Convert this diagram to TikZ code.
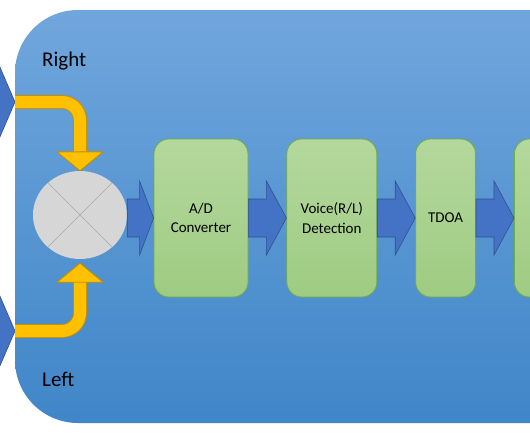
\documentclass[tikz,border=0pt]{standalone}
\usepackage{fontspec}
\setmainfont{Carlito}
\usetikzlibrary{arrows.meta,positioning,shapes.geometric,calc}

\definecolor{panelTop}{RGB}{112,166,220}
\definecolor{panelBot}{RGB}{64,134,200}
\definecolor{flowBlue}{RGB}{68,114,196}
\definecolor{flowEdge}{RGB}{47,82,143}
\definecolor{stageTop}{RGB}{180,216,156}
\definecolor{stageBot}{RGB}{158,203,130}
\definecolor{stageEdge}{RGB}{112,173,71}
\definecolor{bendFill}{RGB}{255,192,0}
\definecolor{bendEdge}{RGB}{191,144,0}
\definecolor{mixFill}{RGB}{214,214,214}
\definecolor{mixLine}{RGB}{168,168,168}

% block arrow from one node to the next
\newcommand{\flowarrow}[3][20pt]{%
  \filldraw[flow] let \p1=(#2.east), \p2=(#3.west) in
    (\x1,\y2+19pt) -- (\x2-#1,\y2+19pt) -- (\x2-#1,\y2+37pt) -- (\x2,\y2)
    -- (\x2-#1,\y2-37pt) -- (\x2-#1,\y2-19pt) -- (\x1,\y2-19pt) -- cycle;}

\begin{document}
\begin{tikzpicture}[
    x=1pt, y=-1pt,
    node distance=38pt,
    stage/.style={rectangle, rounded corners=15pt, draw=stageEdge, line width=0.8pt, top color=stageTop, bottom color=stageBot, align=center, inner sep=0pt, minimum height=158pt, font=\fontsize{15}{19.5}\selectfont},
    mixer/.style={ellipse, fill=mixFill, minimum width=94pt, minimum height=88pt, inner sep=0pt},
    flow/.style={fill=flowBlue, draw=flowEdge, line width=0.6pt},
    bendband/.style={draw=bendEdge, double=bendFill, double distance=12pt, line width=0.9pt, rounded corners=18pt},
    bendhead/.style={fill=bendFill, draw=bendEdge, line width=0.9pt, line join=miter},
    side/.style={font=\fontsize{21}{25}\selectfont, inner sep=0pt, anchor=base west}
]
\useasboundingbox (0,0) rectangle (530,442);
\clip (0,0) rectangle (530,442);
\shade[top color=panelTop, bottom color=panelBot, rounded corners=63pt] (15,10) rectangle (600,423);

\node[side] (rlab) at (42,66) {Right};
\node[side] (llab) at (42,386) {Left};

\coordinate (rin) at (15,102);
\coordinate (lin) at (15,331);
\filldraw[flow] (rin) -- ++(-22,-51) -- ++(0,102) -- cycle;
\filldraw[flow] (lin) -- ++(-22,-51) -- ++(0,102) -- cycle;

\node[mixer] (mix) at (80,215) {};
\draw[mixLine, line width=0.6pt] (mix.135) -- (mix.-45) (mix.45) -- (mix.-135);

\node[stage, minimum width=94pt] (ad) at (201,218) {A/D\\Converter};
\node[stage, minimum width=90pt, right=of ad] (voice) {Voice(R/L)\\Detection};
\node[stage, minimum width=60pt, right=of voice] (tdoa) {TDOA};
\node[stage, minimum width=60pt, right=of tdoa] (next) {};

% yellow inputs into the mixer
\coordinate (rtip) at (mix.north);
\coordinate (ltip) at ([yshift=-4pt]mix.south);
\draw[bendband] (rin) -| ($(rtip)+(0,-18)$);
\filldraw[bendhead] (rtip) -- ++(-23,-19) -- ++(46,0) -- cycle;
\draw[bendband] (lin) -| ($(ltip)+(0,18)$);
\filldraw[bendhead] (ltip) -- ++(-23,19) -- ++(46,0) -- cycle;

\flowarrow[14pt]{mix}{ad}
\flowarrow{ad}{voice}
\flowarrow{voice}{tdoa}
\flowarrow{tdoa}{next}
\end{tikzpicture}
\end{document}
